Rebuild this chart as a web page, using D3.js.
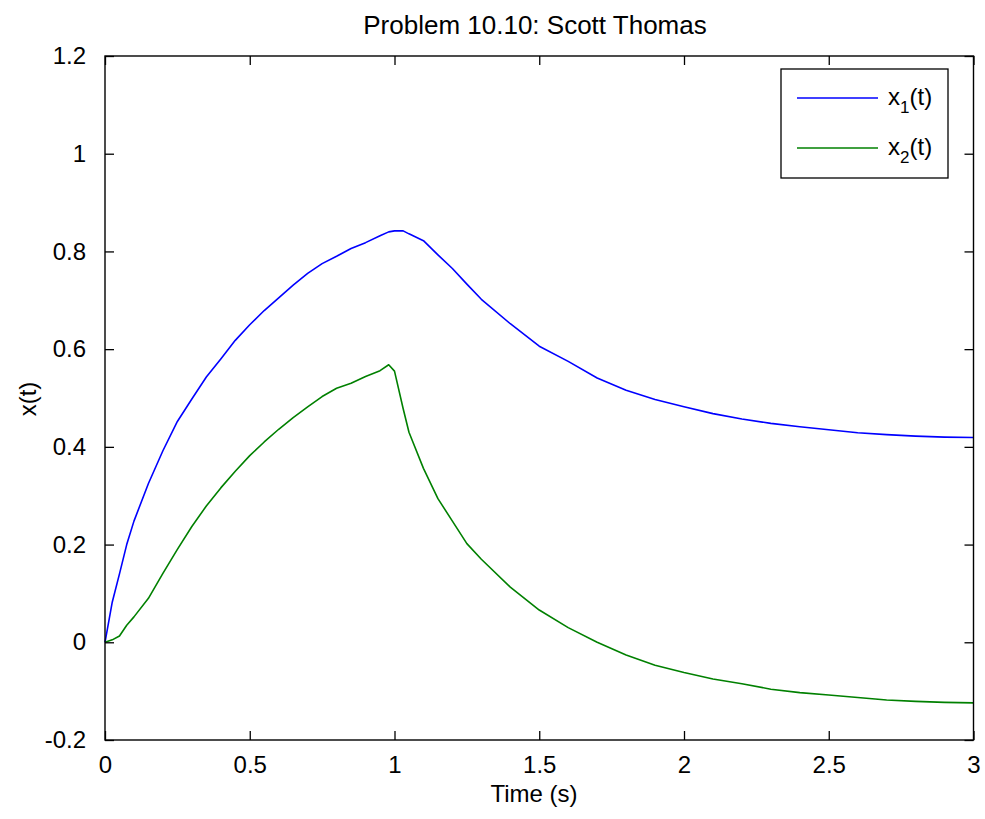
<!DOCTYPE html>
<html>
<head>
<meta charset="utf-8">
<script src="https://d3js.org/d3.v7.min.js"></script>
<style>
  html, body { margin: 0; padding: 0; background: #fff; }
  svg { display: block; }
  text { font-family: "Liberation Sans", Arial, Helvetica, sans-serif; fill: #000; }
</style>
</head>
<body>
<svg id="chart" width="985" height="819"></svg>
<script>
// ---- data ----
const timeS = [0, 0.025, 0.05, 0.075, 0.1, 0.15, 0.2, 0.25, 0.3, 0.35, 0.4, 0.45, 0.5, 0.55, 0.6, 0.65, 0.7, 0.75, 0.8, 0.85, 0.9, 0.95, 0.98, 1.0, 1.03, 1.05, 1.1, 1.15, 1.2, 1.25, 1.3, 1.4, 1.5, 1.6, 1.7, 1.8, 1.9, 2.0, 2.1, 2.2, 2.3, 2.4, 2.5, 2.6, 2.7, 2.8, 2.9, 3.0];
const x1 = [0, 0.082, 0.14, 0.20, 0.248, 0.325, 0.392, 0.452, 0.498, 0.543, 0.58, 0.618, 0.650, 0.679, 0.705, 0.731, 0.755, 0.775, 0.790, 0.806, 0.818, 0.832, 0.840, 0.842, 0.842, 0.836, 0.822, 0.793, 0.765, 0.733, 0.702, 0.652, 0.606, 0.575, 0.541, 0.516, 0.497, 0.482, 0.468, 0.457, 0.448, 0.441, 0.435, 0.429, 0.425, 0.422, 0.420, 0.419];
const x2 = [0, 0.005, 0.013, 0.035, 0.052, 0.09, 0.141, 0.19, 0.237, 0.279, 0.316, 0.35, 0.382, 0.41, 0.436, 0.46, 0.482, 0.503, 0.52, 0.53, 0.544, 0.556, 0.568, 0.555, 0.478, 0.43, 0.356, 0.294, 0.248, 0.202, 0.17, 0.113, 0.066, 0.03, 0.0, -0.026, -0.047, -0.062, -0.075, -0.085, -0.096, -0.103, -0.108, -0.113, -0.118, -0.121, -0.123, -0.124];
const seriesNames = ["x1", "x2"];
const seriesColors = ["#0000ff", "#008000"];
const xTicks = [0, 0.5, 1, 1.5, 2, 2.5, 3];
const xTickLabels = ["0", "0.5", "1", "1.5", "2", "2.5", "3"];
const yTicks = [-0.2, 0, 0.2, 0.4, 0.6, 0.8, 1, 1.2];
const yTickLabels = ["-0.2", "0", "0.2", "0.4", "0.6", "0.8", "1", "1.2"];
const titleText = "Problem 10.10: Scott Thomas";
const xLabelText = "Time (s)";
const yLabelText = "x(t)";

// ---- layout ----
const L = 105, R = 973.5, T = 56, B = 740;
const svg = d3.select("#chart");
const x = d3.scaleLinear().domain([0, 3]).range([L, R]);
const y = d3.scaleLinear().domain([-0.2, 1.2]).range([B, T]);
const FS = 24;

// plot background
svg.append("rect").attr("x", L).attr("y", T).attr("width", R - L).attr("height", B - T).attr("fill", "#fff");

// lines
const series = [x1, x2];
const line = d3.line().x(d => x(d[0])).y(d => y(d[1]));
series.forEach((vals, i) => {
  svg.append("path")
    .datum(timeS.map((t, j) => [t, vals[j]]))
    .attr("fill", "none")
    .attr("stroke", seriesColors[i])
    .attr("stroke-width", 1.6)
    .attr("stroke-linejoin", "round")
    .attr("d", line);
});

// axes with inward ticks
function styleAxis(g) {
  g.select(".domain").remove();
  g.selectAll(".tick line").attr("stroke", "#000").attr("stroke-width", 1.3);
  g.selectAll(".tick text").attr("font-size", FS).attr("font-family", '"Liberation Sans", Arial, sans-serif').attr("fill", "#000");
}
const xAxisB = d3.axisBottom(x).tickValues(xTicks).tickFormat((d, i) => xTickLabels[i]).tickSize(-9).tickPadding(16);
svg.append("g").attr("transform", `translate(0,${B})`).call(xAxisB).call(styleAxis)
  .selectAll(".tick text").attr("dy", "0.71em");
const xAxisT = d3.axisTop(x).tickValues(xTicks).tickFormat("").tickSize(-9);
svg.append("g").attr("transform", `translate(0,${T})`).call(xAxisT).call(styleAxis);
const yAxisL = d3.axisLeft(y).tickValues(yTicks).tickFormat((d, i) => yTickLabels[i]).tickSize(-9).tickPadding(19);
svg.append("g").attr("transform", `translate(${L},0)`).call(yAxisL).call(styleAxis);
const yAxisR = d3.axisRight(y).tickValues(yTicks).tickFormat("").tickSize(-9);
svg.append("g").attr("transform", `translate(${R},0)`).call(yAxisR).call(styleAxis);

// frame
svg.append("rect").attr("x", L).attr("y", T).attr("width", R - L).attr("height", B - T)
  .attr("fill", "none").attr("stroke", "#000").attr("stroke-width", 1.4);

// title and labels
svg.append("text").attr("x", 535).attr("y", 34).attr("text-anchor", "middle").attr("font-size", 26).text(titleText);
svg.append("text").attr("x", 534).attr("y", 802).attr("text-anchor", "middle").attr("font-size", FS).text(xLabelText);
svg.append("text").attr("transform", "translate(36,399) rotate(-90)").attr("text-anchor", "middle").attr("font-size", FS).text(yLabelText);

// legend
const lg = svg.append("g");
lg.append("rect").attr("x", 781).attr("y", 69).attr("width", 167).attr("height", 109)
  .attr("fill", "#fff").attr("stroke", "#000").attr("stroke-width", 1.3);
const legendY = [98, 148];
seriesNames.forEach((name, i) => {
  lg.append("line").attr("x1", 797).attr("x2", 878).attr("y1", legendY[i]).attr("y2", legendY[i])
    .attr("stroke", seriesColors[i]).attr("stroke-width", 1.6);
  const t = lg.append("text").attr("x", 888).attr("y", legendY[i] + 7).attr("font-size", FS);
  t.append("tspan").text("x");
  t.append("tspan").attr("font-size", 17).attr("dy", 8).text(name.slice(1));
  t.append("tspan").attr("dy", -8).text("(t)");
});
</script>
</body>
</html>
